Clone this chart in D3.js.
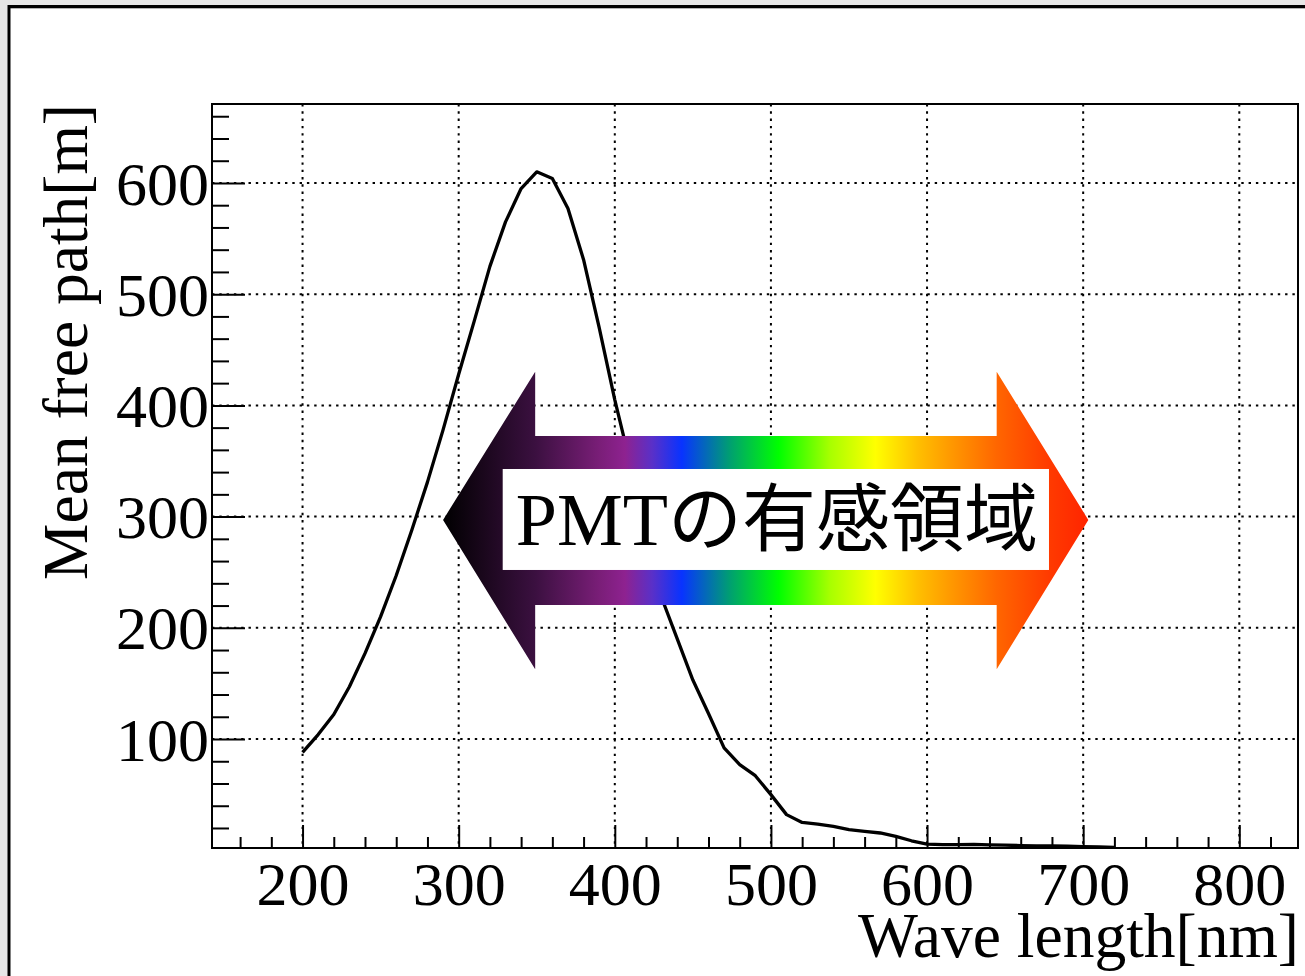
<!DOCTYPE html>
<html>
<head>
<meta charset="utf-8">
<script src="https://cdn.jsdelivr.net/npm/d3@7"></script>
<style>
  html, body { margin: 0; padding: 0; background: #e7e7e7; }
  svg { display: block; }
  text { font-family: "Liberation Serif", "Noto Sans CJK JP", serif; fill: #000; }
</style>
</head>
<body>
<svg id="chart" width="1305" height="976"></svg>
<script>
// Mean free path of light in the scintillator, sampled every 10 nm
const wavelengths = [200, 210, 220, 230, 240, 250, 260, 270, 280, 290,
                     300, 310, 320, 330, 340, 350, 360, 370, 380, 390,
                     400, 410, 420, 430, 440, 450, 460, 470, 480, 490,
                     500, 510, 520, 530, 540, 550, 560, 570, 580, 590,
                     600, 610, 620, 630, 640, 650, 660, 670, 680, 690,
                     700, 710, 720];
const meanFreePath = [88, 104, 122, 147, 177, 210, 247, 288, 331, 378,
                      428, 476, 525, 565, 595, 610, 604, 577, 531, 470,
                      405, 347, 288, 227, 190, 153, 123, 92, 77, 67,
                      50, 32, 25, 23.5, 21.5, 18.5, 17, 15.5, 12.5, 8.5,
                      5.5, 5, 5, 5.2, 4.8, 4.5, 4.2, 4, 4, 3.6,
                      3.3, 3, 2.6];

const xMajorTicks = [200, 300, 400, 500, 600, 700, 800];
const xMinorTicks = d3.range(160, 837, 20).filter(v => v % 100 !== 0);
const yMajorTicks = [100, 200, 300, 400, 500, 600];
const yMinorTicks = d3.range(20, 671, 20).filter(v => v % 100 !== 0);

const xTitle = "Wave length[nm]";
const yTitle = "Mean free path[m]";
const bandLabel = "PMTの有感領域";

// PMT sensitive band arrow, in axis units (nm, m)
const band = {
  tipLeft: 290, headLeft: 349, headRight: 644.6, tipRight: 703.3,
  mid: 297, shaftTop: 372.5, shaftBottom: 220.5, headTop: 430.3, headBottom: 162.7,
  boxLeft: 328.2, boxRight: 678.1, boxTop: 342.8, boxBottom: 252
};
const bandStops = [
  [0.000, "#000000"], [0.143, "#3b1040"], [0.243, "#7a1e78"], [0.282, "#8e2290"],
  [0.324, "#5a30c8"], [0.370, "#0833ff"], [0.445, "#00a070"], [0.520, "#00ff00"],
  [0.600, "#a8ff00"], [0.670, "#ffff00"], [0.735, "#ffc000"], [0.785, "#ff9a00"],
  [0.858, "#ff6600"], [0.940, "#ff3a00"], [1.000, "#ff2400"]
];

const svg = d3.select("#chart");

// canvas frame: grey surround, dark rule on top/left, white pad
svg.append("rect").attr("x", 0).attr("y", 0).attr("width", 1305).attr("height", 976).attr("fill", "#e7e7e7");
svg.append("rect").attr("x", 7.5).attr("y", 5).attr("width", 1310).attr("height", 985).attr("fill", "#000");
svg.append("rect").attr("x", 10.5).attr("y", 8.3).attr("width", 1310).attr("height", 985).attr("fill", "#fff");

const plot = { left: 212, right: 1298, top: 104, bottom: 848 };
const x = d3.scaleLinear().domain([142, 837.6]).range([plot.left, plot.right]);
const y = d3.scaleLinear().domain([2, 671]).range([plot.bottom, plot.top]);

// grid
const grid = svg.append("g").attr("stroke", "#000").attr("stroke-width", 2).attr("stroke-dasharray", "2.4,4.9");
grid.selectAll("line.v").data(xMajorTicks).join("line").attr("class", "v")
  .attr("x1", d => x(d)).attr("x2", d => x(d)).attr("y1", plot.top).attr("y2", plot.bottom);
grid.selectAll("line.h").data(yMajorTicks).join("line").attr("class", "h")
  .attr("y1", d => y(d)).attr("y2", d => y(d)).attr("x1", plot.left).attr("x2", plot.right);

// curve
const line = d3.line().x((d, i) => x(wavelengths[i])).y(d => y(d));
svg.append("path").datum(meanFreePath).attr("d", line)
  .attr("fill", "none").attr("stroke", "#000").attr("stroke-width", 3.3).attr("stroke-linejoin", "round");

// axes
function styleAxis(g) {
  g.select(".domain").remove();
  g.selectAll(".tick line").attr("stroke", "#000").attr("stroke-width", 2);
}
const xAxis = svg.append("g").attr("transform", `translate(0,${plot.bottom})`)
  .call(d3.axisBottom(x).tickValues(xMajorTicks).tickSize(-23).tickFormat(d3.format("d")))
  .call(styleAxis);
xAxis.selectAll(".tick text").attr("y", 57).attr("dy", null)
  .style("font-family", "'Liberation Serif', serif").style("font-size", "62px");
svg.append("g").attr("transform", `translate(0,${plot.bottom})`)
  .call(d3.axisBottom(x).tickValues(xMinorTicks).tickSize(-11).tickFormat(""))
  .call(styleAxis);

const yAxis = svg.append("g").attr("transform", `translate(${plot.left},0)`)
  .call(d3.axisLeft(y).tickValues(yMajorTicks).tickSize(-33).tickFormat(d3.format("d")))
  .call(styleAxis);
yAxis.selectAll(".tick text").attr("x", -3).attr("dy", "0.34em")
  .style("font-family", "'Liberation Serif', serif").style("font-size", "62px");
svg.append("g").attr("transform", `translate(${plot.left},0)`)
  .call(d3.axisLeft(y).tickValues(yMinorTicks).tickSize(-17).tickFormat(""))
  .call(styleAxis);

// plot frame
svg.append("rect").attr("x", plot.left).attr("y", plot.top)
  .attr("width", plot.right - plot.left).attr("height", plot.bottom - plot.top)
  .attr("fill", "none").attr("stroke", "#000").attr("stroke-width", 2);

// axis titles
svg.append("text").attr("x", 1299).attr("y", 957).attr("text-anchor", "end")
  .style("font-size", "63.5px").text(xTitle);
svg.append("text").attr("transform", "translate(87,104) rotate(-90)").attr("text-anchor", "end")
  .style("font-size", "63.5px").text(yTitle);

// band arrow
const defs = svg.append("defs");
const grad = defs.append("linearGradient").attr("id", "bandGrad")
  .attr("gradientUnits", "userSpaceOnUse")
  .attr("x1", x(band.tipLeft)).attr("x2", x(band.tipRight)).attr("y1", 0).attr("y2", 0);
grad.selectAll("stop").data(bandStops).join("stop")
  .attr("offset", d => d[0]).attr("stop-color", d => d[1]);

const arrowPts = [
  [band.tipLeft, band.mid], [band.headLeft, band.headTop], [band.headLeft, band.shaftTop],
  [band.headRight, band.shaftTop], [band.headRight, band.headTop], [band.tipRight, band.mid],
  [band.headRight, band.headBottom], [band.headRight, band.shaftBottom],
  [band.headLeft, band.shaftBottom], [band.headLeft, band.headBottom]
];
svg.append("polygon").attr("points", arrowPts.map(p => [x(p[0]), y(p[1])].join(",")).join(" "))
  .attr("fill", "url(#bandGrad)");
svg.append("rect").attr("x", x(band.boxLeft)).attr("y", y(band.boxTop))
  .attr("width", x(band.boxRight) - x(band.boxLeft)).attr("height", y(band.boxBottom) - y(band.boxTop))
  .attr("fill", "#fff");
svg.append("text").attr("x", (x(band.boxLeft) + x(band.boxRight)) / 2 + 1).attr("y", 545)
  .attr("text-anchor", "middle").style("font-size", "74px").text(bandLabel);
</script>
</body>
</html>
